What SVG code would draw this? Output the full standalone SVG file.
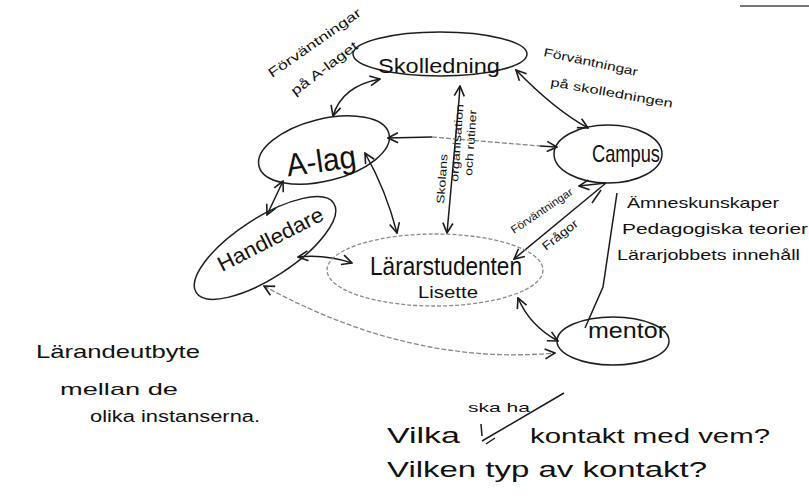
<svg xmlns="http://www.w3.org/2000/svg" width="809" height="501" viewBox="0 0 809 501">
<defs>
<marker id="ah" viewBox="0 0 12 12" refX="11" refY="6" markerWidth="12" markerHeight="12" markerUnits="userSpaceOnUse" orient="auto-start-reverse">
<path d="M1,1 L11,6 L1,11" fill="none" stroke="#1a1a1a" stroke-width="1.6"/>
</marker>
</defs>
<style>
.n{fill:none;stroke:#1e1e1e;stroke-width:1.5}
.faint{fill:none;stroke:#8a8a8a;stroke-width:1.3;stroke-dasharray:4 2}
.c{fill:none;stroke:#1a1a1a;stroke-width:1.5}
.cf{fill:none;stroke:#888;stroke-width:1.3;stroke-dasharray:5 2}
.t{font-family:"Liberation Sans",Arial,sans-serif;fill:#111}
</style>
<rect width="809" height="501" fill="#fff"/>
<line x1="740" y1="6" x2="809" y2="6" stroke="#777" stroke-width="2"/>

<g id="connectors">
<path class="c" d="M333 116 Q 342 86 380 79" marker-start="url(#ah)" marker-end="url(#ah)"/>
<path class="c" d="M516 70 Q 555 110 588 128" marker-start="url(#ah)" marker-end="url(#ah)"/>
<path class="c" d="M459 100 L460 86" marker-end="url(#ah)"/>
<path class="c" d="M459 100 L447 233" marker-end="url(#ah)"/>
<path class="c" d="M432 137 L388 138" marker-end="url(#ah)"/>
<path class="cf" d="M432 137 L540 146"/>
<path class="c" d="M540 146 L557 147" marker-end="url(#ah)"/>
<path class="c" d="M365 153 Q 386 190 397 233" marker-start="url(#ah)" marker-end="url(#ah)"/>
<path class="c" d="M283 181 L267 215" marker-start="url(#ah)" marker-end="url(#ah)"/>
<path class="c" d="M298 257 Q 325 254 352 263" marker-start="url(#ah)" marker-end="url(#ah)"/>
<path class="cf" d="M264 286 Q 410 366 555 353" marker-start="url(#ah)" marker-end="url(#ah)"/>
<path class="c" d="M518 298 Q 530 326 558 341" marker-start="url(#ah)" marker-end="url(#ah)"/>
<path class="c" d="M606 183 L514 259" marker-end="url(#ah)"/>
<path class="c" d="M606 183 L579 186" marker-end="url(#ah)"/>
<path class="c" d="M601 190 L592 203"/>
<path class="c" d="M617 193 L603 287 L585 328"/>
</g>

<g id="skolledning">
<ellipse class="n" cx="440" cy="54" rx="87" ry="22"/>
<text class="t" x="378" y="73" font-size="21" textLength="122" lengthAdjust="spacingAndGlyphs">Skolledning</text>
</g>

<g id="a-lag">
<ellipse class="n" cx="324" cy="150" rx="67" ry="31" transform="rotate(-14 324 150)"/>
<text class="t" x="286" y="172" font-size="32" textLength="70" lengthAdjust="spacingAndGlyphs" transform="rotate(-8 320 160)">A-lag</text>
</g>

<g id="campus">
<ellipse class="n" cx="608" cy="154" rx="54" ry="29"/>
<text class="t" x="592" y="162" font-size="24" textLength="68" lengthAdjust="spacingAndGlyphs">Campus</text>
</g>

<g id="handledare">
<ellipse class="n" cx="265" cy="248" rx="82" ry="30" transform="rotate(-33 265 248)"/>
<text class="t" x="222" y="272" font-size="21" textLength="116" lengthAdjust="spacingAndGlyphs" transform="rotate(-27 222 272)">Handledare</text>
</g>

<g id="lararstudenten">
<ellipse class="faint" cx="435" cy="270" rx="108" ry="36"/>
<text class="t" x="370" y="275" font-size="25" textLength="152" lengthAdjust="spacingAndGlyphs">Lärarstudenten</text>
<text class="t" x="418" y="298" font-size="17" textLength="60" lengthAdjust="spacingAndGlyphs">Lisette</text>
</g>

<g id="mentor">
<ellipse class="n" cx="613" cy="341" rx="56" ry="24"/>
<text class="t" x="588" y="338" font-size="22" textLength="78" lengthAdjust="spacingAndGlyphs">mentor</text>
</g>

<g id="labels">
<text class="t" x="272" y="78" font-size="13" textLength="110" lengthAdjust="spacingAndGlyphs" transform="rotate(-35 272 78)">Förväntningar</text>
<text class="t" x="295" y="96" font-size="13" textLength="80" lengthAdjust="spacingAndGlyphs" transform="rotate(-37 295 96)">på A-laget</text>
<text class="t" x="543" y="56" font-size="12" textLength="96" lengthAdjust="spacingAndGlyphs" transform="rotate(12 543 56)">Förväntningar</text>
<text class="t" x="550" y="86" font-size="12" textLength="124" lengthAdjust="spacingAndGlyphs" transform="rotate(10 550 86)">på skolledningen</text>
<text class="t" x="444" y="204" font-size="11" textLength="50" lengthAdjust="spacingAndGlyphs" transform="rotate(-86 444 204)">Skolans</text>
<text class="t" x="458" y="182" font-size="11" textLength="78" lengthAdjust="spacingAndGlyphs" transform="rotate(-86 458 182)">organisation</text>
<text class="t" x="472" y="176" font-size="11" textLength="66" lengthAdjust="spacingAndGlyphs" transform="rotate(-86 472 176)">och rutiner</text>
<text class="t" x="514" y="234" font-size="11" textLength="72" lengthAdjust="spacingAndGlyphs" transform="rotate(-34 514 234)">Förväntningar</text>
<text class="t" x="546" y="251" font-size="12" textLength="42" lengthAdjust="spacingAndGlyphs" transform="rotate(-38 546 251)">Frågor</text>
<text class="t" x="627" y="208" font-size="15" textLength="152" lengthAdjust="spacingAndGlyphs">Ämneskunskaper</text>
<text class="t" x="622" y="234" font-size="15" textLength="186" lengthAdjust="spacingAndGlyphs">Pedagogiska teorier</text>
<text class="t" x="617" y="260" font-size="15" textLength="183" lengthAdjust="spacingAndGlyphs">Lärarjobbets innehåll</text>
<text class="t" x="36" y="358" font-size="19" textLength="164" lengthAdjust="spacingAndGlyphs">Lärandeutbyte</text>
<text class="t" x="60" y="395" font-size="17" textLength="118" lengthAdjust="spacingAndGlyphs">mellan de</text>
<text class="t" x="90" y="422" font-size="16" textLength="170" lengthAdjust="spacingAndGlyphs">olika instanserna.</text>
<text class="t" x="387" y="443" font-size="22" textLength="73" lengthAdjust="spacingAndGlyphs">Vilka</text>
<text class="t" x="468" y="412" font-size="13" textLength="62" lengthAdjust="spacingAndGlyphs">ska ha</text>
<path class="c" d="M482 441 L564 393 M481 424 L482 436 M486 444 L495 438"/>
<text class="t" x="530" y="443" font-size="21" textLength="240" lengthAdjust="spacingAndGlyphs">kontakt med vem?</text>
<text class="t" x="387" y="477" font-size="22" textLength="320" lengthAdjust="spacingAndGlyphs">Vilken typ av kontakt?</text>
</g>
</svg>
